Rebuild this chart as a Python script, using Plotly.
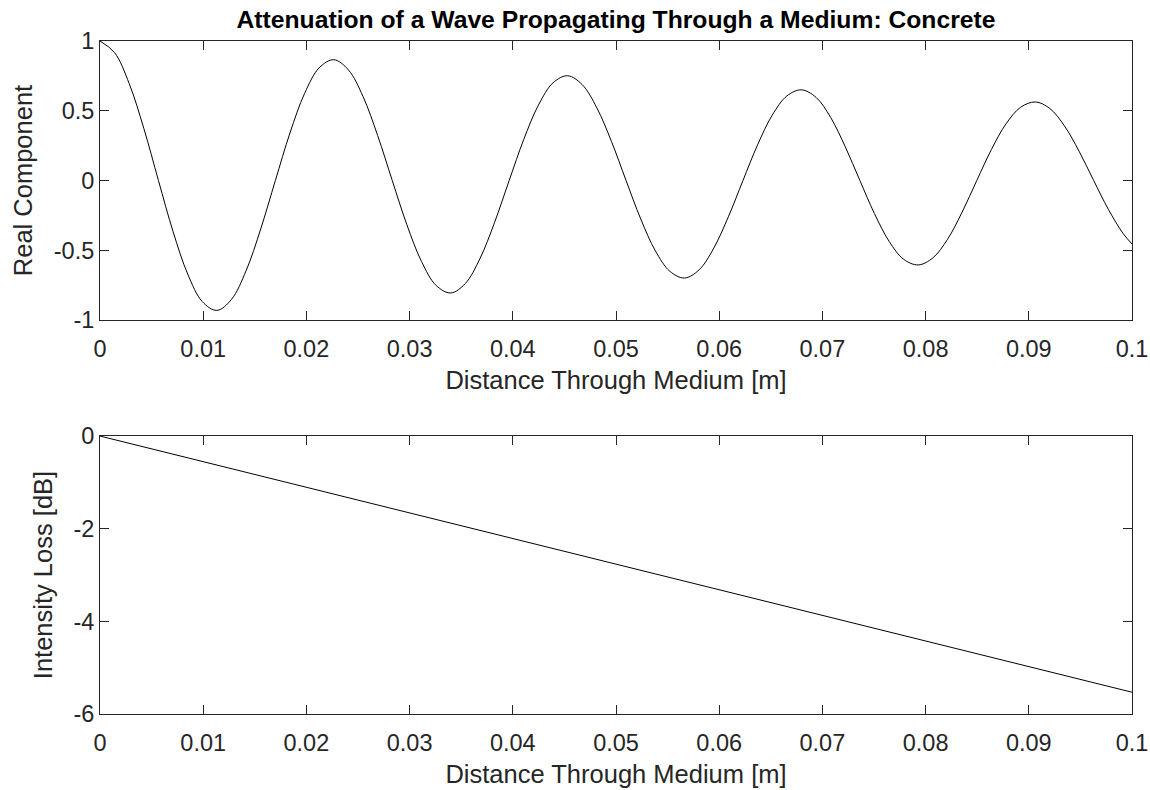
import plotly.graph_objects as go

# Real component of the wave
dist_top = [0.0, 0.001416, 0.002832, 0.004248, 0.005664, 0.00708, 0.008496, 0.009912,
            0.011328, 0.012744, 0.01416, 0.015576, 0.016992, 0.018408, 0.019824, 0.02124,
            0.022656, 0.024072, 0.025488, 0.026904, 0.02832, 0.029736, 0.031152, 0.032568,
            0.033984, 0.0354, 0.036816, 0.038232, 0.039648, 0.041064, 0.04248, 0.043896,
            0.045312, 0.046728, 0.048144, 0.04956, 0.050976, 0.052392, 0.053808, 0.055224,
            0.05664, 0.058056, 0.059472, 0.060888, 0.062304, 0.06372, 0.065136, 0.066552,
            0.067968, 0.069384, 0.0708, 0.072216, 0.073632, 0.075048, 0.076464, 0.07788,
            0.079296, 0.080712, 0.082128, 0.083544, 0.08496, 0.086376, 0.087792, 0.089208,
            0.090624, 0.09204, 0.093456, 0.094872, 0.096288, 0.097704, 0.09912, 0.1]
real_comp = [1.000, 0.916, 0.694, 0.373, 0.0, -0.366, -0.670, -0.868,
             -0.931, -0.852, -0.646, -0.347, 0.0, 0.341, 0.624, 0.808,
             0.866, 0.793, 0.602, 0.323, 0.0, -0.317, -0.580, -0.752,
             -0.806, -0.738, -0.560, -0.301, 0.0, 0.295, 0.540, 0.700,
             0.751, 0.687, 0.521, 0.280, 0.0, -0.275, -0.503, -0.651,
             -0.699, -0.640, -0.485, -0.260, 0.0, 0.256, 0.468, 0.606,
             0.650, 0.596, 0.452, 0.242, 0.0, -0.238, -0.436, -0.565,
             -0.605, -0.554, -0.421, -0.226, 0.0, 0.222, 0.406, 0.525,
             0.563, 0.516, 0.391, 0.210, 0.0, -0.206, -0.378, -0.455]

# Intensity loss (linear in dB)
dist_bot = [0.0, 0.1]
loss_db = [0.0, -5.53]

x_ticks = [0, 0.01, 0.02, 0.03, 0.04, 0.05, 0.06, 0.07, 0.08, 0.09, 0.1]
x_tick_text = ["0", "0.01", "0.02", "0.03", "0.04", "0.05", "0.06", "0.07", "0.08", "0.09", "0.1"]
y_top_ticks = [-1, -0.5, 0, 0.5, 1]
y_top_text = ["-1", "-0.5", "0", "0.5", "1"]
y_bot_ticks = [-6, -4, -2, 0]
y_bot_text = ["-6", "-4", "-2", "0"]

FONT = "Liberation Sans, Arial, Helvetica, sans-serif"
AX = "#262626"
FS_TICK = 23.5
FS_LABEL = 25.5
FS_TITLE = 24.7

fig = go.Figure()
fig.add_trace(go.Scatter(x=dist_top, y=real_comp, mode="lines",
                         line=dict(color="black", width=1, shape="spline", smoothing=1.0),
                         xaxis="x", yaxis="y", showlegend=False, hoverinfo="skip"))
fig.add_trace(go.Scatter(x=dist_bot, y=loss_db, mode="lines",
                         line=dict(color="black", width=1),
                         xaxis="x2", yaxis="y2", showlegend=False, hoverinfo="skip"))

axcommon = dict(showline=True, linecolor=AX, linewidth=1, mirror="ticks",
                ticks="inside", ticklen=9, tickwidth=1, tickcolor=AX,
                showgrid=False, zeroline=False, automargin=False,
                tickfont=dict(family=FONT, size=FS_TICK, color=AX))

xcommon = dict(axcommon, ticklabelstandoff=8)

fig.update_layout(
    width=1150, height=790,
    margin=dict(l=100, r=18, t=41, b=76),
    paper_bgcolor="white", plot_bgcolor="white",
    title=dict(text="<b>Attenuation of a Wave Propagating Through a Medium: Concrete</b>",
               x=(100 + 1132) / 2 / 1150, xanchor="center", y=0.975, yanchor="middle",
               font=dict(family=FONT, size=FS_TITLE, color="black")),
    xaxis=dict(domain=[0, 1], range=[0, 0.1], tickvals=x_ticks, ticktext=x_tick_text,
               anchor="y",
               title=dict(text="Distance Through Medium [m]", standoff=9,
                          font=dict(family=FONT, size=FS_LABEL, color=AX)), **xcommon),
    yaxis=dict(domain=[0.5854, 1], range=[-1, 1], tickvals=y_top_ticks, ticktext=y_top_text,
               anchor="x",
               title=dict(text="Real Component", standoff=13,
                          font=dict(family=FONT, size=FS_LABEL, color=AX)), **axcommon),
    xaxis2=dict(domain=[0, 1], range=[0, 0.1], tickvals=x_ticks, ticktext=x_tick_text,
                anchor="y2",
                title=dict(text="Distance Through Medium [m]", standoff=9,
                           font=dict(family=FONT, size=FS_LABEL, color=AX)), **xcommon),
    yaxis2=dict(domain=[0, 0.413], range=[-6, 0], tickvals=y_bot_ticks, ticktext=y_bot_text,
                anchor="x2",
                title=dict(text="Intensity Loss [dB]", standoff=13,
                           font=dict(family=FONT, size=FS_LABEL, color=AX)), **axcommon),
)

fig.write_html("out.html")
